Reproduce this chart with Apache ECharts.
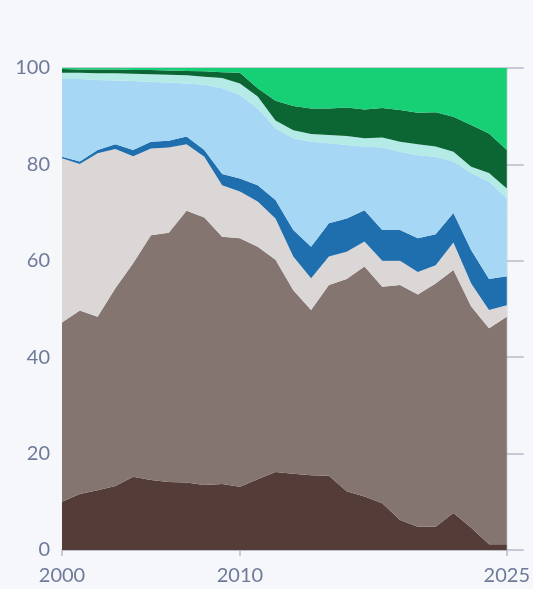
<!DOCTYPE html>
<html>
<head>
<meta charset="utf-8">
<script src="https://cdn.jsdelivr.net/npm/echarts@6/dist/echarts.min.js"></script>
<style>
html,body{margin:0;padding:0;background:#f5f7fb;}
#chart{width:533px;height:589px;}
</style>
</head>
<body>
<div id="chart"></div>
<script>
const years = [2000,2001,2002,2003,2004,2005,2006,2007,2008,2009,2010,2011,2012,2013,2014,2015,2016,2017,2018,2019,2020,2021,2022,2023,2024,2025];
const yTicks = [0,20,40,60,80,100];
const xTickLabels = [2000,2010,2025];

const s1 = [10.0,11.6,12.4,13.3,15.2,14.5,14.1,14.0,13.5,13.7,13.1,14.7,16.2,15.8,15.5,15.4,12.2,11.1,9.7,6.2,4.8,4.8,7.7,4.6,1.2,1.2];
const s2 = [37.2,38.1,36.0,41.0,44.3,50.8,51.7,56.4,55.5,51.3,51.6,48.2,44.0,38.1,34.3,39.6,44.0,47.7,44.9,48.8,48.2,50.5,50.4,45.9,44.8,47.2];
const s3 = [34.1,30.4,33.9,28.9,22.2,18.0,17.7,13.8,12.6,10.7,9.7,9.4,8.6,7.0,6.6,5.9,5.7,5.2,5.4,5.0,4.7,3.8,5.7,4.8,3.8,2.4];
const s4 = [0.3,0.5,0.7,1.0,1.3,1.4,1.4,1.6,1.4,2.3,2.7,3.4,3.8,5.5,6.5,6.9,6.9,6.5,6.4,6.4,7.0,6.4,6.1,6.9,6.4,6.0];
const s5 = [16.1,17.1,14.5,13.2,14.3,12.4,12.1,11.0,13.5,17.8,17.3,15.9,14.9,19.0,21.8,16.6,15.2,13.2,17.1,16.2,17.2,16.1,10.7,16.0,20.2,16.2];
const s6 = [1.3,1.3,1.4,1.5,1.5,1.6,1.6,1.7,1.7,2.1,2.4,2.5,1.6,1.7,1.6,1.7,1.9,1.7,2.1,2.1,2.3,2.1,2.0,1.3,1.8,2.0];
const s7 = [0.8,0.7,0.8,0.8,0.8,0.9,0.9,0.9,1.1,1.2,2.2,1.7,4.1,5.0,5.3,5.5,5.9,6.0,6.1,6.6,6.5,7.1,7.3,8.7,8.2,8.0];
const s8 = [0.2,0.3,0.3,0.3,0.4,0.4,0.5,0.6,0.7,0.9,1.0,4.2,6.8,7.9,8.4,8.4,8.2,8.6,8.3,8.7,9.3,9.2,10.1,11.8,13.6,17.0];

const seriesData = [s1,s2,s3,s4,s5,s6,s7,s8];
const colors = ['#543d38','#857571','#dbd7d7','#1f6ead','#a6d7f4','#b5ebe6','#0b6634','#17cf75'];

const labelColor = '#6f7a98';
const lineColor = '#b7bccb';
const font = 'Lato, "Noto Sans", sans-serif';

const chart = echarts.init(document.getElementById('chart'));
chart.setOption({
  backgroundColor: '#f5f7fb',
  animation: false,
  grid: {left: 62, right: 26, top: 68, bottom: 39},
  xAxis: {
    type: 'category',
    data: years,
    boundaryGap: false,
    axisLine: {show: true, lineStyle: {color: lineColor, width: 1.5}},
    axisTick: {show: true, length: 6, lineStyle: {color: lineColor, width: 1.5},
      interval: (i, v) => xTickLabels.indexOf(Number(v)) >= 0},
    axisLabel: {color: labelColor, fontSize: 20, fontFamily: font, margin: 16,
      interval: (i, v) => xTickLabels.indexOf(Number(v)) >= 0},
    splitLine: {show: false}
  },
  yAxis: [{
    type: 'value',
    min: 0, max: 100, interval: 20,
    position: 'left',
    axisLine: {show: true, lineStyle: {color: '#dfe2ea', width: 1}},
    axisTick: {show: false},
    axisLabel: {color: labelColor, fontSize: 20, fontFamily: font, margin: 12,
      padding: [6, 0, 0, 0],
      formatter: v => yTicks.indexOf(v) >= 0 ? String(v) : ''},
    splitLine: {show: true, lineStyle: {color: lineColor, width: 1.5}}
  }, {
    type: 'value',
    min: 0, max: 100, interval: 20,
    position: 'right',
    axisLine: {show: true, lineStyle: {color: '#dfe2ea', width: 1}},
    axisTick: {show: true, inside: false, length: 17, lineStyle: {color: lineColor, width: 1.5}},
    axisLabel: {show: false},
    splitLine: {show: false}
  }],
  series: seriesData.map((d, i) => ({
    type: 'line',
    stack: 'total',
    data: d,
    symbol: 'none',
    smooth: false,
    lineStyle: {width: 0},
    areaStyle: {color: colors[i], opacity: 1},
    itemStyle: {color: colors[i]}
  }))
});
</script>
</body>
</html>
